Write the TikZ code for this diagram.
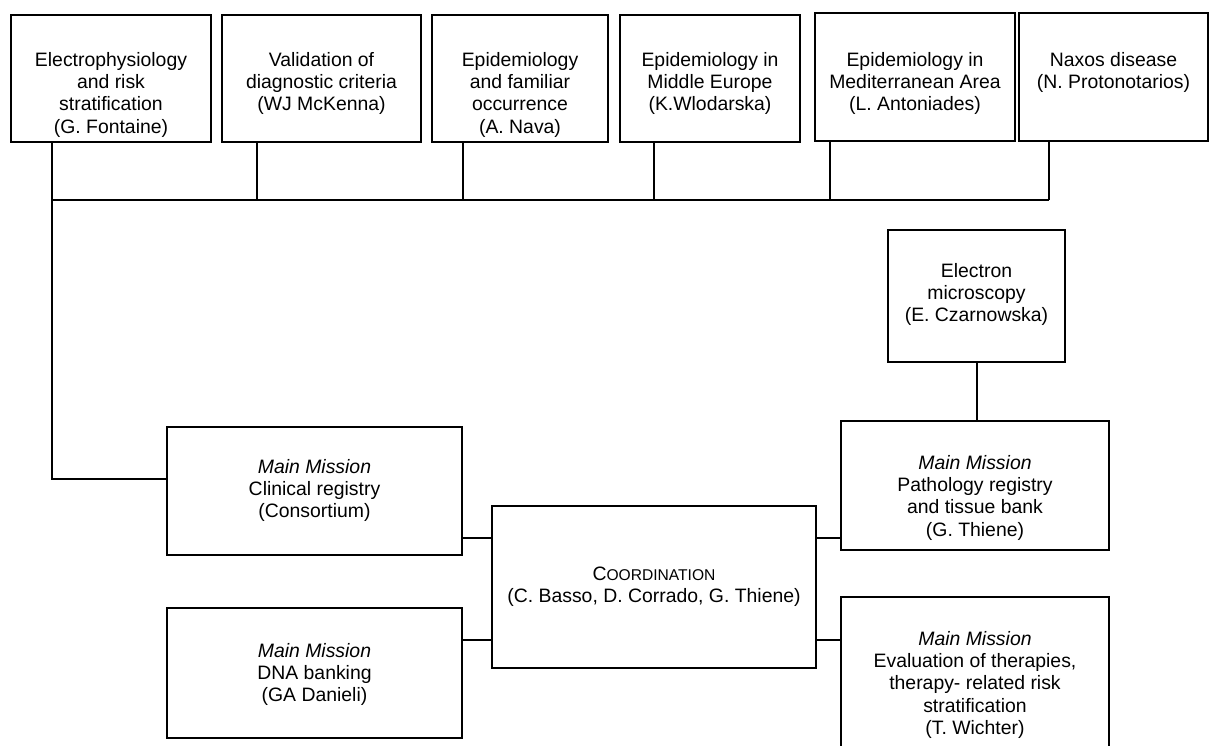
\documentclass[tikz,border=0pt]{standalone}
\usepackage{fontspec}
\setmainfont{Liberation Sans}
\usetikzlibrary{positioning}

% text block at the top of a framed box: [top gap]{width}{height}{lines}
\newcommand{\boxtext}[4][17pt]{\parbox[c][#3][t]{#2}{\centering\vspace*{#1}#4}}
\newcommand{\mission}{\textit{Main Mission}}

\tikzset{
  box/.style={draw, line width=1.2pt, inner sep=0pt},
  link/.style={line width=1pt},
  thinlink/.style={line width=0.6pt},
}

\begin{document}
\begin{tikzpicture}[x=0.5pt,y=-0.5pt,font=\fontsize{9.7}{11.2}\selectfont]
  \useasboundingbox (0,0) rectangle (1209,745);

  % working groups
  \node[box] (fontaine) at (111,78.5) {\boxtext[18.5pt]{100pt}{63.5pt}{Electrophysiology\\and risk\\stratification\\(G. Fontaine)}};
  \node[box] (mckenna) at (321.5,78.5) {\boxtext[18.5pt]{99.5pt}{63.5pt}{Validation of\\diagnostic criteria\\(WJ McKenna)}};
  \node[box] (nava) at (520,78.5) {\boxtext[18.5pt]{88pt}{63.5pt}{Epidemiology\\and familiar\\occurrence\\(A. Nava)}};
  \node[box] (wlodarska) at (710,78.5) {\boxtext[18.5pt]{90pt}{63.5pt}{Epidemiology in\\Middle Europe\\(K.Wlodarska)}};
  \node[box] (antoniades) at (915,77) {\boxtext[19.5pt]{100pt}{64pt}{Epidemiology in\\Mediterranean Area\\(L. Antoniades)}};
  \node[box] (naxos) at (1113.5,77) {\boxtext[19.5pt]{94.5pt}{64pt}{Naxos disease\\(N. Protonotarios)}};

  % missions
  \node[box] (czarnowska) at (976.5,296) {\boxtext[16.5pt]{88.5pt}{66pt}{Electron\\microscopy\\(E. Czarnowska)}};
  \node[box] (pathology) at (975,485.5) {\boxtext{134pt}{64.5pt}{\mission\\Pathology registry\\and tissue bank\\(G. Thiene)}};
  \node[box] (therapies) at (975,678.5) {\boxtext{134pt}{81.5pt}{\mission\\Evaluation of therapies,\\therapy- related risk\\stratification\\(T. Wichter)}};
  \node[box] (clinical) at (314.5,491) {\boxtext[16pt]{147.5pt}{64pt}{\mission\\Clinical registry\\(Consortium)}};
  \node[box] (dna) at (314.5,673) {\boxtext[17.5pt]{147.5pt}{65pt}{\mission\\DNA banking\\(GA Danieli)}};
  \node[box, minimum width=162pt, minimum height=81pt, align=center] (coord) at (654,587)
    {C{\fontsize{7.8}{9}\selectfont OORDINATION}\\(C. Basso, D. Corrado, G. Thiene)};

  % connectors
  \coordinate (busL) at (52,200);
  \coordinate (busR) at (1049,200);
  \coordinate (corner) at (52,479);
  \coordinate (hi) at (0,538);
  \coordinate (lo) at (0,640);

  \draw[link] (busL) -- (busR);
  \draw[thinlink] (fontaine.south -| busL) -- (busL) -- (corner) -- (clinical.west |- corner);
  \foreach \n/\x in {mckenna/257, nava/463, wlodarska/654, antoniades/830, naxos/1049} {
    \coordinate (\n-drop) at (\x,200);
    \draw[link] (\n.south -| \n-drop) -- (\n-drop);
  }
  \draw[link] (czarnowska.south) -- (czarnowska.south |- pathology.north);
  \draw[link] (clinical.east |- hi) -- (coord.west |- hi);
  \draw[link] (dna.east |- lo) -- (coord.west |- lo);
  \draw[link] (coord.east |- hi) -- (pathology.west |- hi);
  \draw[link] (coord.east |- lo) -- (therapies.west |- lo);
\end{tikzpicture}
\end{document}
